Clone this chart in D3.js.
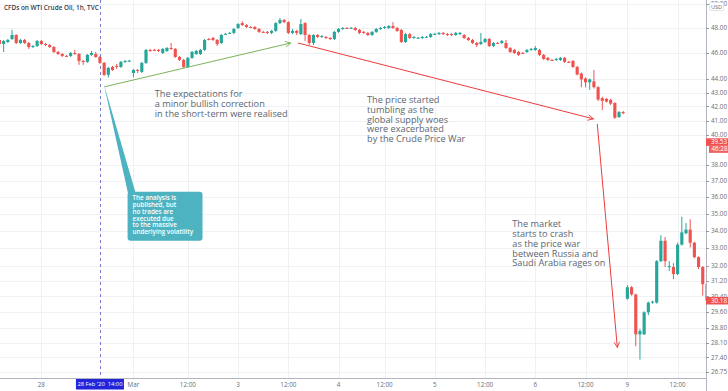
<!doctype html>
<html lang="en">

<head>
    <meta charset="utf-8">
    <title>CFDs on WTI Crude Oil, 1h</title>
    <script src="https://cdn.jsdelivr.net/npm/d3@7"></script>
    <style>
        body {
            margin: 0;
            background: #ffffff;
        }

        svg {
            display: block;
        }

        svg text {
            font-family: "Open Sans", "Noto Sans", sans-serif;
        }
    </style>
</head>

<body>
    <svg></svg>
    <script>
        var width = 728;
        var height = 391;
        var plotRight = 706;
        var plotBottom = 378;

        // hourly candles, 27 Feb 14:00 -> 9 Mar 19:00
        var opens = [
            47.03, 46.71, 46.87, 47.11, 47.43, 46.79, 47.03, 46.79, 46.47, 46.55,
            46.95, 46.71, 46.63, 46.47, 46.08, 45.92, 45.77, 45.77, 46.00, 45.92,
            45.38, 45.31, 45.85, 45.92, 45.69, 45.23, 44.32, 44.92, 45.00, 44.92,
            45.31, 45.38, 44.46, 44.69, 44.54, 45.23, 46.24, 46.24, 46.24, 46.00,
            46.16, 46.39, 46.32, 45.69, 45.46, 44.92, 45.62, 45.92, 45.92, 46.24,
            47.11, 47.19, 47.03, 46.79, 47.50, 47.60, 47.60, 48.00, 48.40, 48.24,
            48.08, 48.08, 47.92, 47.68, 47.68, 47.60, 47.76, 48.40, 48.66, 48.48,
            47.60, 47.76, 47.50, 48.40, 47.43, 46.79, 47.43, 47.27, 47.27, 47.19,
            47.11, 47.68, 47.92, 48.00, 48.00, 48.00, 47.84, 47.68, 47.60, 47.43,
            47.68, 47.92, 48.00, 48.00, 48.16, 48.00, 47.84, 46.87, 47.50, 47.19,
            47.19, 47.19, 47.27, 47.27, 47.50, 47.50, 47.60, 47.50, 47.50, 47.43,
            47.50, 47.43, 47.19, 47.03, 46.79, 46.71, 46.87, 47.11, 46.55, 46.79,
            46.79, 46.79, 46.39, 46.24, 46.08, 46.00, 46.08, 46.24, 46.24, 46.24,
            45.85, 45.62, 45.46, 45.46, 45.46, 45.62, 45.31, 45.38, 44.92, 44.42,
            44.05, 43.76, 43.83, 43.40, 42.60, 42.55, 42.47, 42.25, 41.25, 41.60,
            30.28, 30.88, 30.50, 28.50, 28.50, 29.59, 30.08, 30.08, 32.28, 33.42,
            31.96, 31.96, 31.58, 33.20, 33.85, 34.06, 33.31, 32.50, 31.96, 31.04
        ];
        var highs = [
            47.27, 47.03, 47.11, 47.84, 47.50, 47.11, 47.11, 46.87, 46.63, 47.03,
            47.03, 46.79, 46.71, 46.55, 46.16, 46.00, 45.85, 46.08, 46.24, 46.00,
            45.46, 45.92, 46.16, 46.08, 45.77, 45.31, 44.92, 45.00, 45.15, 45.38,
            45.46, 45.46, 44.77, 44.77, 45.31, 46.32, 46.32, 46.32, 46.32, 46.39,
            46.47, 46.79, 46.39, 45.77, 45.54, 45.69, 46.16, 46.24, 46.32, 47.11,
            47.19, 47.27, 47.11, 47.50, 47.60, 47.68, 48.00, 48.40, 48.56, 48.32,
            48.16, 48.16, 48.00, 47.76, 47.76, 47.84, 48.48, 48.82, 48.74, 48.56,
            47.92, 47.84, 48.74, 48.48, 47.50, 47.50, 47.50, 47.43, 47.35, 47.27,
            47.76, 48.00, 48.08, 48.08, 48.08, 48.08, 47.92, 47.76, 47.68, 47.76,
            48.00, 48.08, 48.16, 48.24, 48.48, 48.08, 47.92, 47.60, 47.60, 47.35,
            47.27, 47.35, 47.35, 47.60, 47.60, 47.68, 47.68, 47.60, 47.60, 47.68,
            47.68, 47.50, 47.27, 47.11, 46.87, 47.60, 47.19, 47.19, 46.87, 46.87,
            47.03, 47.03, 46.47, 46.32, 46.16, 46.08, 46.32, 46.39, 46.55, 46.32,
            45.92, 45.69, 45.54, 45.62, 45.69, 45.69, 45.38, 45.46, 45.00, 44.50,
            44.13, 44.05, 44.69, 43.48, 42.70, 42.60, 42.55, 42.30, 41.68, 41.68,
            30.99, 30.94, 30.55, 28.76, 29.64, 30.13, 30.18, 32.34, 33.74, 33.63,
            32.28, 32.17, 33.31, 34.82, 34.44, 34.66, 33.36, 32.55, 32.01, 31.10
        ];
        var lows = [
            46.47, 46.08, 46.79, 47.03, 46.71, 46.71, 46.71, 46.32, 46.39, 46.47,
            46.63, 46.55, 46.39, 46.00, 45.85, 45.69, 45.69, 45.69, 45.85, 45.08,
            45.08, 45.23, 45.77, 45.62, 45.15, 44.24, 44.13, 44.62, 44.77, 44.85,
            45.23, 45.31, 44.13, 44.46, 44.46, 45.15, 46.08, 46.16, 46.08, 45.92,
            46.08, 46.24, 45.62, 45.38, 44.85, 44.85, 45.54, 45.85, 45.85, 46.16,
            47.00, 46.95, 46.55, 46.71, 47.43, 47.52, 47.50, 47.92, 48.16, 48.00,
            48.00, 47.84, 47.60, 47.60, 47.50, 47.50, 47.68, 48.32, 48.40, 47.50,
            47.50, 47.43, 47.43, 46.95, 46.63, 46.63, 47.19, 47.19, 47.11, 47.03,
            47.03, 47.60, 47.84, 47.92, 47.92, 47.76, 47.50, 47.52, 47.35, 47.35,
            47.60, 47.84, 47.92, 47.92, 47.92, 47.68, 46.79, 46.79, 47.11, 47.11,
            47.11, 47.11, 47.19, 47.19, 47.43, 47.43, 47.43, 47.35, 47.35, 47.35,
            47.43, 47.11, 46.95, 46.71, 46.47, 46.63, 46.79, 46.47, 46.47, 46.71,
            46.71, 46.32, 46.00, 45.92, 45.77, 45.92, 46.00, 46.16, 46.16, 45.77,
            45.46, 45.38, 45.38, 45.38, 45.38, 45.23, 45.23, 44.85, 44.28, 43.40,
            43.40, 43.20, 43.30, 42.40, 41.75, 42.28, 42.10, 41.12, 41.19, 41.45,
            30.23, 30.44, 27.93, 27.30, 28.47, 29.45, 30.03, 30.03, 32.23, 31.96,
            31.74, 31.31, 31.52, 33.15, 33.79, 33.04, 32.44, 31.85, 30.44, 30.13
        ];
        var closes = [
            46.71, 46.95, 47.03, 47.43, 46.79, 47.03, 46.79, 46.47, 46.55, 46.95,
            46.71, 46.63, 46.47, 46.08, 45.92, 45.77, 45.74, 46.00, 45.92, 45.38,
            45.31, 45.85, 46.00, 45.69, 45.23, 44.32, 44.85, 44.69, 44.92, 45.31,
            45.38, 45.40, 44.69, 44.62, 45.23, 46.24, 46.16, 46.20, 46.16, 46.32,
            46.39, 46.32, 45.69, 45.46, 44.92, 45.62, 46.08, 46.16, 46.24, 47.03,
            47.07, 47.03, 46.71, 47.43, 47.52, 47.60, 47.92, 48.32, 48.24, 48.08,
            48.05, 47.92, 47.68, 47.66, 47.60, 47.76, 48.40, 48.66, 48.48, 47.60,
            47.76, 47.60, 48.32, 47.43, 46.79, 47.43, 47.27, 47.35, 47.19, 47.11,
            47.68, 47.92, 48.00, 47.98, 48.02, 47.84, 47.60, 47.60, 47.43, 47.68,
            47.92, 48.00, 48.08, 48.16, 48.00, 47.76, 46.87, 47.50, 47.19, 47.27,
            47.21, 47.27, 47.29, 47.50, 47.52, 47.60, 47.50, 47.43, 47.43, 47.60,
            47.60, 47.19, 47.03, 46.79, 46.63, 46.87, 47.11, 46.55, 46.79, 46.77,
            46.95, 46.39, 46.08, 46.00, 45.85, 45.98, 46.24, 46.32, 46.39, 45.85,
            45.54, 45.46, 45.44, 45.54, 45.62, 45.31, 45.29, 44.92, 44.35, 43.98,
            43.76, 43.98, 43.40, 42.50, 42.40, 42.35, 42.20, 41.20, 41.60, 41.52,
            30.88, 30.50, 28.50, 28.66, 29.59, 30.08, 30.13, 32.28, 33.42, 32.28,
            32.01, 31.58, 33.20, 33.90, 34.06, 33.31, 32.50, 31.96, 31.04, 30.18
        ];

        var priceTicks = [50, 48, 46, 44, 43, 42, 41, 40, 38, 37, 36, 35, 34, 33, 32, 31.2, 30.4, 29.6, 28.8, 28.1, 27.4, 26.75];
        var timeTickIndex = [10, 32, 45, 57, 69, 81, 92, 104, 116, 128, 140, 150, 162];
        var timeTickLabels = ["28", "Mar", "12:00", "3", "12:00", "4", "12:00", "5", "12:00", "6", "12:00", "9", "12:00"];

        var markerIndex = 24; // 28 Feb '20 14:00
        var markerLabel = "28 Feb '20  14:00";

        var priceLabels = [
            { price: 39.53, text: "39.53" },
            { price: 30.18, text: "30.18" }
        ];
        var countdownText = "46:28";

        var svg = d3.select('svg').attr("width", width).attr("height", height);

        var x = d3.scaleBand()
            .domain(d3.range(closes.length))
            .range([-2.09, -2.09 + closes.length * 4.18])
            .paddingInner(0.25);
        var y = d3.scaleLog()
            .domain([26.46, 50.34])
            .range([plotBottom, 0]);

        function cx(i) { return x(0) + x.bandwidth() / 2 + i * x.step(); }

        svg.append("defs").append("clipPath").attr("id", "plot")
            .append("rect").attr("width", plotRight).attr("height", plotBottom);

        // grid
        svg.append("g").selectAll("line")
            .data(priceTicks)
            .enter()
            .append("line")
            .attr("x1", 0).attr("x2", plotRight)
            .attr("y1", function (d) { return Math.round(y(d)) + 0.5; })
            .attr("y2", function (d) { return Math.round(y(d)) + 0.5; })
            .attr("stroke", "#eff1f5");
        svg.append("g").selectAll("line")
            .data(timeTickIndex)
            .enter()
            .append("line")
            .attr("y1", 0).attr("y2", plotBottom)
            .attr("x1", function (d) { return Math.round(cx(d)) + 0.5; })
            .attr("x2", function (d) { return Math.round(cx(d)) + 0.5; })
            .attr("stroke", "#eff1f5");

        // analysis time marker
        svg.append("line")
            .attr("x1", Math.round(cx(markerIndex)) + 0.5).attr("x2", Math.round(cx(markerIndex)) + 0.5)
            .attr("y1", 0).attr("y2", plotBottom)
            .attr("stroke", "#7a7ad0")
            .attr("stroke-dasharray", "3,3");

        // candles
        var candles = svg.append("g").attr("clip-path", "url(#plot)")
            .selectAll("g")
            .data(closes)
            .enter()
            .append("g");

        function colour(i) { return closes[i] >= opens[i] ? "#26a69a" : "#ef5350"; }

        candles.append("line")
            .attr("x1", function (d, i) { return cx(i); })
            .attr("x2", function (d, i) { return cx(i); })
            .attr("y1", function (d, i) { return y(highs[i]); })
            .attr("y2", function (d, i) { return y(lows[i]); })
            .attr("stroke", function (d, i) { return colour(i); });

        candles.append("rect")
            .attr("x", function (d, i) { return x(i); })
            .attr("width", x.bandwidth())
            .attr("y", function (d, i) { return y(Math.max(opens[i], closes[i])); })
            .attr("height", function (d, i) { return Math.max(1, Math.abs(y(opens[i]) - y(closes[i]))); })
            .attr("fill", function (d, i) { return colour(i); });

        // arrows drawn at (candle index, price)
        var defs = svg.select("defs");
        function arrowHead(id, col) {
            defs.append("marker").attr("id", id)
                .attr("viewBox", "0 0 10 10").attr("refX", 9).attr("refY", 5)
                .attr("markerWidth", 7).attr("markerHeight", 7)
                .attr("markerUnits", "userSpaceOnUse")
                .attr("orient", "auto")
                .append("path").attr("d", "M1,1 L9,5 L1,9")
                .attr("fill", "none").attr("stroke", col).attr("stroke-width", 1.2);
        }
        arrowHead("ah-green", "#7cb35b");
        arrowHead("ah-red", "#ef3b3b");

        var arrows = [
            { from: [25.1, 43.43], to: [69.6, 46.79], col: "#7cb35b", head: "ah-green" },
            { from: [71.3, 46.79], to: [141.9, 41.12], col: "#ef3b3b", head: "ah-red" },
            { from: [142.8, 40.77], to: [147.6, 27.87], col: "#ef3b3b", head: "ah-red" }
        ];
        svg.append("g").selectAll("line")
            .data(arrows)
            .enter()
            .append("line")
            .attr("x1", function (d) { return cx(d.from[0]); })
            .attr("y1", function (d) { return y(d.from[1]); })
            .attr("x2", function (d) { return cx(d.to[0]); })
            .attr("y2", function (d) { return y(d.to[1]); })
            .attr("stroke", function (d) { return d.col; })
            .attr("stroke-width", 1)
            .attr("marker-end", function (d) { return "url(#" + d.head + ")"; });

        // text notes
        var notes = [
            { at: [37.1, 42.67], lines: ["The expectations for", "a minor bullish correction", "in the short-term were realised"] },
            { at: [87.8, 42.25], lines: ["The price started", "tumbling as the", "global supply woes", "were exacerbated", "by the Crude Price War"] },
            { at: [122.5, 34.2], lines: ["The market", "starts to crash", "as the price war", "between Russia and", "Saudi Arabia rages on"] }
        ];
        notes.forEach(function (n) {
            svg.append("text")
                .attr("font-size", "9.2px")
                .attr("fill", "#5b6672")
                .selectAll("tspan")
                .data(n.lines)
                .enter()
                .append("tspan")
                .attr("x", cx(n.at[0]))
                .attr("y", function (d, i) { return y(n.at[1]) + i * 9.8; })
                .text(function (d) { return d; });
        });

        // callout
        var callAnchor = [24.9, 43.65];
        var callTop = [30.6, 36.33];
        var callBottom = 33.42;
        var boxX = cx(callTop[0]), boxY = y(callTop[1]);
        var boxW = cx(48.5) - boxX, boxH = y(callBottom) - boxY;
        var ax = cx(callAnchor[0]), ay = y(callAnchor[1]);
        svg.append("path")
            .attr("d", "M" + ax + "," + ay + "L" + (boxX + 1) + "," + (boxY + 4) + "L" + (boxX + 8) + "," + (boxY + 1) + "Z")
            .attr("fill", "#4db3c1");
        svg.append("rect")
            .attr("x", boxX).attr("y", boxY)
            .attr("width", boxW).attr("height", boxH)
            .attr("rx", 3)
            .attr("fill", "#4db3c1");
        var callLines = ["The analysis is", "published, but", "no trades are", "executed due", "to the massive", "underlying volatility"];
        svg.append("text")
            .attr("font-size", "6.3px")
            .attr("font-weight", 600)
            .attr("fill", "#ffffff")
            .selectAll("tspan")
            .data(callLines)
            .enter()
            .append("tspan")
            .attr("x", boxX + 5)
            .attr("y", function (d, i) { return boxY + 8.6 + i * 6.8; })
            .text(function (d) { return d; });

        // price axis
        svg.append("line")
            .attr("x1", plotRight + 0.5).attr("x2", plotRight + 0.5)
            .attr("y1", 0).attr("y2", height)
            .attr("stroke", "#b2b5be");
        var py = svg.append("g").selectAll("g")
            .data(priceTicks)
            .enter()
            .append("g");
        py.append("line")
            .attr("x1", plotRight).attr("x2", plotRight + 3)
            .attr("y1", function (d) { return Math.round(y(d)) + 0.5; })
            .attr("y2", function (d) { return Math.round(y(d)) + 0.5; })
            .attr("stroke", "#9598a1");
        py.append("text")
            .attr("x", 711)
            .attr("y", function (d) { return y(d) + 2.2; })
            .attr("font-size", "6.3px")
            .attr("fill", "#6a6d78")
            .text(function (d) { return d3.format(".2f")(d); });

        svg.append("rect")
            .attr("x", 709.5).attr("y", 2.5).attr("width", 14).attr("height", 8).attr("rx", 1.5)
            .attr("fill", "#ffffff").attr("stroke", "#e0e3eb");
        svg.append("text")
            .attr("x", 716.5).attr("y", 8.6).attr("text-anchor", "middle")
            .attr("font-size", "5.6px").attr("fill", "#6a6d78").text("USD");

        var pl = svg.append("g").selectAll("g")
            .data(priceLabels)
            .enter()
            .append("g");
        pl.append("rect")
            .attr("x", plotRight).attr("width", width - plotRight)
            .attr("y", function (d) { return y(d.price) - 3.8; })
            .attr("height", 7.6)
            .attr("fill", "#ef5350");
        pl.append("text")
            .attr("x", 711)
            .attr("y", function (d) { return y(d.price) + 2.2; })
            .attr("font-size", "6.3px")
            .attr("fill", "#ffffff")
            .text(function (d) { return d.text; });

        svg.append("rect")
            .attr("x", 709).attr("width", width - 709)
            .attr("y", y(39.53) + 3.8).attr("height", 7)
            .attr("fill", "#f06262");
        svg.append("text")
            .attr("x", 711.5).attr("y", y(39.53) + 9.4)
            .attr("font-size", "6.3px").attr("fill", "#ffffff")
            .text(countdownText);

        // time axis
        svg.append("line")
            .attr("x1", 0).attr("x2", plotRight + 1)
            .attr("y1", plotBottom + 0.5).attr("y2", plotBottom + 0.5)
            .attr("stroke", "#b2b5be");
        svg.append("g").selectAll("text")
            .data(timeTickIndex)
            .enter()
            .append("text")
            .attr("x", function (d) { return cx(d); })
            .attr("y", 387)
            .attr("text-anchor", "middle")
            .attr("font-size", "6.3px")
            .attr("fill", "#6a6d78")
            .text(function (d, i) { return timeTickLabels[i]; });

        svg.append("rect")
            .attr("x", cx(markerIndex) - 24).attr("y", 379)
            .attr("width", 48).attr("height", 10.5)
            .attr("fill", "#2323d9");
        svg.append("text")
            .attr("x", cx(markerIndex)).attr("y", 386.4)
            .attr("text-anchor", "middle")
            .attr("font-size", "5.8px")
            .attr("fill", "#ffffff")
            .style("white-space", "pre")
            .text(markerLabel);

        // title
        svg.append("text")
            .attr("x", 4).attr("y", 9.6)
            .attr("font-size", "6.4px")
            .attr("font-weight", 600)
            .attr("fill", "#363a45")
            .text("CFDs on WTI Crude Oil, 1h, TVC");
    </script>

</body>

</html>
